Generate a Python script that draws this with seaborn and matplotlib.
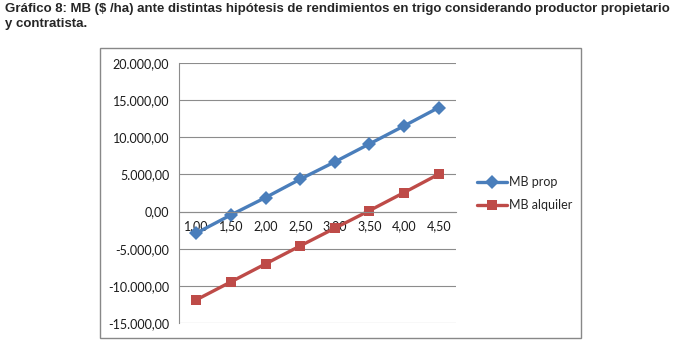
import matplotlib
matplotlib.use("Agg")
import matplotlib.pyplot as plt
import seaborn as sns
import pandas as pd
from matplotlib.patches import Rectangle
from matplotlib.ticker import FuncFormatter, FixedLocator
from matplotlib import font_manager

categories = ["1,00", "1,50", "2,00", "2,50", "3,00", "3,50", "4,00", "4,50"]
mb_prop = [-2900, -450, 1890, 4360, 6690, 9110, 11530, 14000]
mb_alquiler = [-11880, -9460, -7040, -4620, -2240, 130, 2560, 5030]
series_names = ["MB prop", "MB alquiler"]
title = "Gráfico 8: MB ($ /ha) ante distintas hipótesis de rendimientos en trigo considerando productor propietario\ny contratista."

sns.set_theme(style="white")
avail = {f.name for f in font_manager.fontManager.ttflist}
body_font = "Lato" if "Lato" in avail else "DejaVu Sans"
title_font = "Liberation Sans Narrow" if "Liberation Sans Narrow" in avail else "Liberation Sans"
plt.rcParams['font.family'] = [body_font, 'DejaVu Sans']

df = pd.DataFrame({
    "x": categories * 2,
    "y": mb_prop + mb_alquiler,
    "serie": [series_names[0]] * len(categories) + [series_names[1]] * len(categories),
})

fig = plt.figure(figsize=(6.83, 3.44), dpi=100)
ax = fig.add_axes([179/683, 1-323/344, (456-179)/683, (323-63)/344])

palette = {series_names[0]: "#4A7EBB", series_names[1]: "#BE4B48"}
sns.lineplot(data=df, x="x", y="y", hue="serie", style="serie", palette=palette,
             markers={series_names[0]: "D", series_names[1]: "s"},
             dashes=False, sort=False, linewidth=2.4, markersize=7.5,
             markeredgewidth=0, ax=ax, legend=True)

ax.set_xlim(-0.5, len(categories) - 0.5)
ax.set_ylim(-15000, 20000)
ax.set_yticks(range(-15000, 20001, 5000))
ax.yaxis.set_major_formatter(FuncFormatter(
    lambda v, p: f"{v:,.2f}".replace(",", "X").replace(".", ",").replace("X", ".")))
ax.grid(axis="y", color="#8C8C8C", linewidth=0.8)
ax.set_axisbelow(True)
ax.set_xlabel("")
ax.set_ylabel("")

for s in ["top", "right"]:
    ax.spines[s].set_visible(False)
ax.spines["left"].set_color("#8C8C8C")
ax.spines["bottom"].set_color("#8C8C8C")
ax.spines["bottom"].set_position(("data", 0))
ax.spines["left"].set_linewidth(0.8)
ax.spines["bottom"].set_linewidth(0.8)

ax.set_xticks(range(len(categories)))
ax.set_xticklabels(categories)
ax.xaxis.set_minor_locator(FixedLocator([i - 0.5 for i in range(len(categories) + 1)]))
ax.tick_params(axis="x", which="major", length=0, labelsize=9, pad=6, labelcolor="#1a1a1a")
ax.tick_params(axis="x", which="minor", length=4, color="#8C8C8C", width=0.8, direction="out")
ax.tick_params(axis="y", length=4, color="#8C8C8C", width=0.8, labelsize=9, pad=3, labelcolor="#1a1a1a")

leg = ax.legend(loc="upper left", bbox_to_anchor=(472/683, 1-171/344), bbox_transform=fig.transFigure,
                frameon=False, fontsize=9, handlelength=2.4, handletextpad=0.15, labelspacing=0.9,
                borderaxespad=0)

fig.add_artist(Rectangle((100/683, 1-338/344), (581-100)/683, (338-48)/344,
                         transform=fig.transFigure, fill=False, edgecolor="#888888", linewidth=1))

fig.text(5/683, 1-3/344, title, ha="left", va="top", fontsize=9.5, fontweight="bold",
         family=[title_font, "DejaVu Sans"], linespacing=1.3)

fig.savefig("out.png", dpi=100)
